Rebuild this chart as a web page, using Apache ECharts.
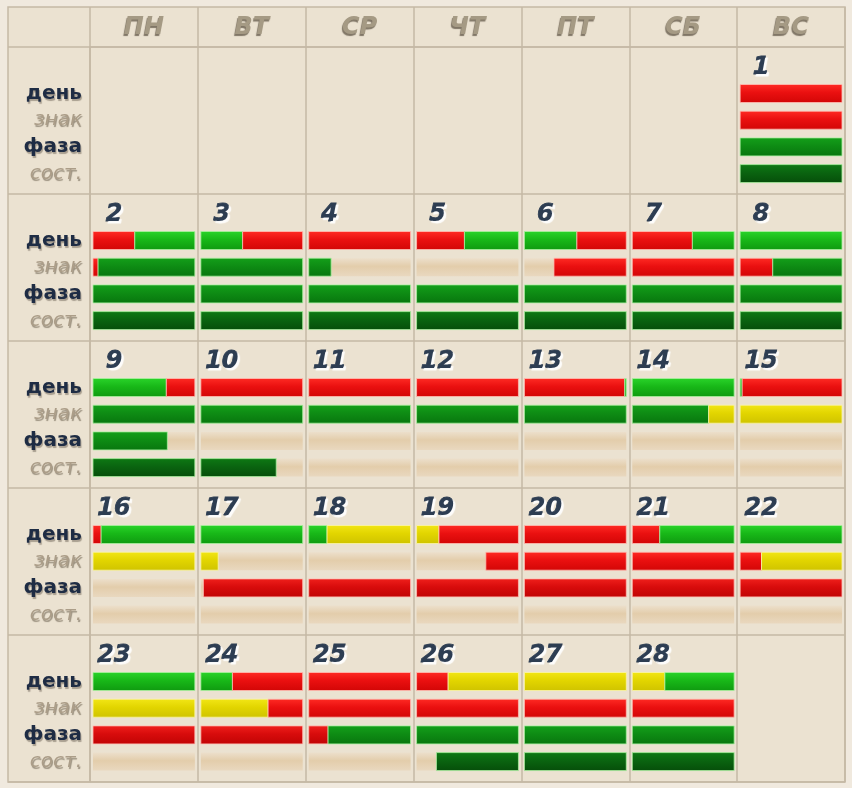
<!DOCTYPE html>
<html><head><meta charset="utf-8">
<script src="https://cdn.jsdelivr.net/npm/echarts@6/dist/echarts.min.js"></script>
<style>html,body{margin:0;padding:0;background:#f0e9de;}#c{width:852px;height:788px;}</style>
</head><body><div id="c"></div>
<script>
// ---- data ----
const weekdays = ['ПН','ВТ','СР','ЧТ','ПТ','СБ','ВС'];
const rowLabels = ['день','знак','фаза','сост.'];
const firstWeekday = 6; // day 1 falls on ВС
const dayCount = 28;
// segments per day: [colour code, fraction]; R red, G green, Y yellow, E empty
const den = [
 [['R',1]], [['R',.41],['G',.59]], [['G',.41],['R',.59]], [['R',1]], [['R',.47],['G',.53]],
 [['G',.515],['R',.485]], [['R',.59],['G',.41]], [['G',1]], [['G',.72],['R',.28]], [['R',1]],
 [['R',1]], [['R',1]], [['R',.985],['G',.015]], [['G',1]], [['G',.02],['R',.98]],
 [['R',.08],['G',.92]], [['G',1]], [['G',.18],['Y',.82]], [['Y',.22],['R',.78]], [['R',1]],
 [['R',.27],['G',.73]], [['G',1]], [['G',1]], [['G',.31],['R',.69]], [['R',1]],
 [['R',.31],['Y',.69]], [['Y',1]], [['Y',.32],['G',.68]]
];
const znak = [
 [['R',1]], [['R',.05],['G',.95]], [['G',1]], [['G',.22],['E',.78]], [['E',1]],
 [['E',.29],['R',.71]], [['R',1]], [['R',.32],['G',.68]], [['G',1]], [['G',1]],
 [['G',1]], [['G',1]], [['G',1]], [['G',.75],['Y',.25]], [['Y',1]],
 [['Y',1]], [['Y',.17],['E',.83]], [['E',1]], [['E',.68],['R',.32]], [['R',1]],
 [['R',1]], [['R',.21],['Y',.79]], [['Y',1]], [['Y',.66],['R',.34]], [['R',1]],
 [['R',1]], [['R',1]], [['R',1]]
];
const faza = [
 [['G',1]], [['G',1]], [['G',1]], [['G',1]], [['G',1]],
 [['G',1]], [['G',1]], [['G',1]], [['G',.73],['E',.27]], [['E',1]],
 [['E',1]], [['E',1]], [['E',1]], [['E',1]], [['E',1]],
 [['E',1]], [['E',.025],['R',.975]], [['R',1]], [['R',1]], [['R',1]],
 [['R',1]], [['R',1]], [['R',1]], [['R',1]], [['R',.19],['G',.81]],
 [['G',1]], [['G',1]], [['G',1]]
];
const sost = [
 [['G',1]], [['G',1]], [['G',1]], [['G',1]], [['G',1]],
 [['G',1]], [['G',1]], [['G',1]], [['G',1]], [['G',.74],['E',.26]],
 [['E',1]], [['E',1]], [['E',1]], [['E',1]], [['E',1]],
 [['E',1]], [['E',1]], [['E',1]], [['E',1]], [['E',1]],
 [['E',1]], [['E',1]], [['E',1]], [['E',1]], [['E',1]],
 [['E',.195],['G',.805]], [['G',1]], [['G',1]]
];
const rows = [den, znak, faza, sost];

// ---- build series data ----
const weeks = Math.ceil((firstWeekday + dayCount) / 7);
const numData = [], trackData = [], segData = [], segCodes = [];
for (let d = 1; d <= dayCount; d++) {
  const i = d - 1 + firstWeekday, w = Math.floor(i / 7), c = i % 7;
  numData.push([c, w, d]);
  for (let r = 0; r < 4; r++) {
    trackData.push([c, w, r]);
    let acc = 0;
    rows[r][d - 1].forEach(([code, f]) => {
      if (code !== 'E') { segData.push([c, w, r, acc, acc + f]); segCodes.push(code + r); }
      acc += f;
    });
  }
}
const labelData = [];
for (let w = 0; w < weeks; w++) for (let r = 0; r < 4; r++) labelData.push([0, w, r]);
const headData = weekdays.map((t, c) => [c, 0, t]);

// ---- styles ----
const G = echarts.graphic;
function grad(a, b, c) { return new G.LinearGradient(0, 0, 0, 1, [{offset:0,color:a},{offset:0.45,color:b},{offset:1,color:c}]); }
function fillFor(code) {
  const k = code[0], r = +code[1];
  if (k === 'R') return r >= 2 ? grad('#f0201c','#d80c0c','#c00404') : grad('#ff2b24','#ea1010','#d20606');
  if (k === 'Y') return grad('#f2e616','#e2d500','#cfc300');
  if (r === 0) return grad('#2ad42a','#18b818','#0f9a10');
  if (r === 3) return grad('#0e7a14','#0a6410','#064e0a');
  return grad('#14a01a','#0e8c14','#08760e');
}
function strokeFor(code) {
  const k = code[0];
  if (k === 'R') return 'rgba(255,190,180,0.8)';
  if (k === 'Y') return 'rgba(250,245,170,0.8)';
  return 'rgba(170,240,160,0.8)';
}
const lineC = '#c5b9a5';
const BAR_TOP = 37.5, BAR_STEP = 26.7, BAR_H = 18, PAD = 3;

function cellBox(api, c, w) {
  const p0 = api.coord([c, w]), p1 = api.coord([c + 1, w + 1]);
  return {x: p0[0], y: p0[1], w: p1[0] - p0[0], h: p1[1] - p0[1]};
}

const chart = echarts.init(document.getElementById('c'));
chart.setOption({
  backgroundColor: '#f0e9de',
  animation: false,
  graphic: [{type:'rect', z:-10, shape:{x:8,y:7,width:837,height:775}, style:{fill:'#ebe2d1', stroke:lineC, lineWidth:1.5}, silent:true}],
  grid: {left: 90, right: 7, top: 47, bottom: 6},
  xAxis: {type:'value', min:0, max:7, interval:1, position:'top',
    axisLine:{show:true, lineStyle:{color:lineC, width:1.5}},
    axisTick:{show:true, inside:false, length:40, lineStyle:{color:lineC, width:1.5}},
    axisLabel:{show:false}, splitLine:{show:true, lineStyle:{color:lineC, width:1.5}}},
  yAxis: {type:'value', min:0, max:weeks, interval:1, inverse:true,
    axisLine:{show:true, lineStyle:{color:lineC, width:1.5}},
    axisTick:{show:true, inside:false, length:82, lineStyle:{color:lineC, width:1.5}},
    axisLabel:{show:false}, splitLine:{show:true, lineStyle:{color:lineC, width:1.5}}},
  series: [
    {type:'custom', name:'track', clip:false, data: trackData,
     renderItem: (p, api) => {
       const b = cellBox(api, api.value(0), api.value(1)), r = api.value(2);
       return {type:'rect', shape:{x:b.x+PAD, y:b.y+BAR_TOP+r*BAR_STEP, width:b.w-2*PAD, height:BAR_H},
         style:{fill: grad('#ecdfcb','#e3cdab','#e9d8bf')}};
     }},
    {type:'custom', name:'segments', clip:false, data: segData,
     renderItem: (p, api) => {
       const b = cellBox(api, api.value(0), api.value(1)), r = api.value(2);
       const bw = b.w - 2*PAD, x0 = b.x + PAD + api.value(3)*bw, x1 = b.x + PAD + api.value(4)*bw;
       const code = segCodes[p.dataIndex];
       return {type:'rect', shape:{x:x0, y:b.y+BAR_TOP+r*BAR_STEP, width:x1-x0, height:BAR_H},
         style:{fill: fillFor(code), stroke: strokeFor(code), lineWidth: 1}};
     }},
    {type:'custom', name:'numbers', clip:false, data: numData,
     renderItem: (p, api) => {
       const b = cellBox(api, api.value(0), api.value(1));
       return {type:'text', x:b.x+24, y:b.y+21, style:{text:String(api.value(2)), fill:'#2d3d52',
         stroke:'#2d3d52', lineWidth:0.8,
         font:'italic bold 24px "DejaVu Sans"', textAlign:'center', textVerticalAlign:'middle',
         textShadowColor:'rgba(255,255,255,0.95)', textShadowOffsetX:2, textShadowOffsetY:2, textShadowBlur:1}};
     }},
    {type:'custom', name:'rowLabels', clip:false, data: labelData,
     renderItem: (p, api) => {
       const b = cellBox(api, 0, api.value(1)), r = api.value(2);
       const dark = (r % 2 === 0);
       return {type:'text', x:b.x-8, y:b.y+BAR_TOP+r*BAR_STEP+BAR_H/2, style:{text:rowLabels[r],
         fill: dark ? '#1e2c44' : '#ab9d88', font:(dark?'bold ':'italic ')+'20px "DejaVu Sans"',
         textAlign:'right', textVerticalAlign:'middle',
         textShadowColor: dark ? 'rgba(160,150,135,0.9)' : 'rgba(90,78,60,0.55)', textShadowOffsetX:1, textShadowOffsetY:2, textShadowBlur:1}};
     }},
    {type:'custom', name:'weekdays', clip:false, data: headData,
     renderItem: (p, api) => {
       const c = api.value(0), pt = api.coord([c + 0.5, 0]);
       return {type:'text', x:pt[0], y:pt[1]-19, style:{text:weekdays[c], fill:'#a59a84',
         font:'italic bold 24px "DejaVu Sans"', textAlign:'center', textVerticalAlign:'middle',
         textShadowColor:'rgba(70,60,45,0.65)', textShadowOffsetX:-1, textShadowOffsetY:2, textShadowBlur:1}};
     }}
  ]
});
</script></body></html>
